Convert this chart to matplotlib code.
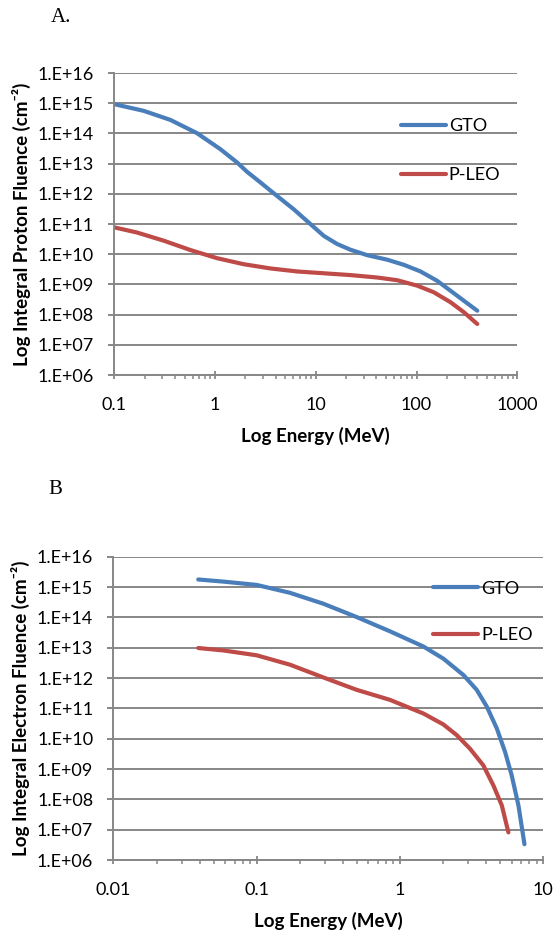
#!/usr/bin/env python3
"""Integral proton and electron fluence spectra, GTO vs P-LEO."""

import matplotlib

matplotlib.use("Agg")
import matplotlib.pyplot as plt  # noqa: E402
import numpy as np  # noqa: E402
from matplotlib.ticker import FixedLocator, FuncFormatter, LogLocator, NullFormatter  # noqa: E402

# values, as log10(energy MeV) / log10(fluence cm^-2)
proton_gto_logE = [-1.0, -0.709, -0.444, -0.179, 0.053, 0.219, 0.318, 0.450, 0.616, 0.781, 0.947,
                   1.079, 1.212, 1.344, 1.510, 1.709, 1.874, 2.040, 2.205, 2.338, 2.470, 2.603]
proton_gto_logF = [14.97, 14.75, 14.45, 14.01, 13.48, 13.04, 12.73, 12.38, 11.93, 11.49, 11.00,
                   10.61, 10.34, 10.15, 9.97, 9.82, 9.65, 9.43, 9.12, 8.79, 8.46, 8.13]
proton_leo_logE = [-1.0, -0.775, -0.510, -0.245, 0.020, 0.285, 0.550, 0.815, 1.079, 1.344, 1.609,
                   1.808, 2.007, 2.172, 2.338, 2.470, 2.603]
proton_leo_logF = [10.89, 10.72, 10.45, 10.14, 9.87, 9.67, 9.53, 9.43, 9.37, 9.31, 9.23,
                   9.14, 8.96, 8.74, 8.41, 8.08, 7.69]

electron_gto_logE = [-1.408, -1.233, -1.000, -0.768, -0.535, -0.302, -0.070, 0.163, 0.302, 0.442,
                     0.535, 0.605, 0.675, 0.733, 0.779, 0.826, 0.868]
electron_gto_logF = [15.25, 15.18, 15.07, 14.81, 14.45, 14.01, 13.54, 13.04, 12.64, 12.10,
                     11.61, 11.06, 10.34, 9.56, 8.79, 7.80, 6.52]
electron_leo_logE = [-1.408, -1.233, -1.000, -0.768, -0.535, -0.302, -0.070, 0.163, 0.302, 0.395,
                     0.488, 0.581, 0.651, 0.710, 0.756]
electron_leo_logF = [12.99, 12.91, 12.75, 12.44, 12.02, 11.61, 11.28, 10.83, 10.47, 10.12,
                     9.67, 9.12, 8.46, 7.80, 6.91]

series_names = ["GTO", "P-LEO"]
proton_xticks = [0.1, 1, 10, 100, 1000]
proton_xlabels = ["0.1", "1", "10", "100", "1000"]
electron_xticks = [0.01, 0.1, 1, 10]
electron_xlabels = ["0.01", "0.1", "1", "10"]

BLUE = "#4a7ebb"
RED = "#be4b48"
GRID = "#878787"
SANS = ["Lato", "DejaVu Sans"]


def style_axes(ax, xticks, xlabels, ylabel):
    ax.set_xscale("log")
    ax.set_yscale("log")
    ax.set_xlim(xticks[0], xticks[-1])
    ax.set_ylim(1e6, 1e16)
    ax.yaxis.set_major_locator(FixedLocator([10.0 ** k for k in range(6, 17)]))
    ax.yaxis.set_minor_locator(FixedLocator([]))
    ax.yaxis.set_major_formatter(FuncFormatter(lambda v, _: f"1.E+{int(round(np.log10(v))):02d}"))
    ax.xaxis.set_minor_locator(LogLocator(base=10, subs=np.arange(2, 10)))
    ax.xaxis.set_minor_formatter(NullFormatter())
    ax.set_xticks(xticks, xlabels)
    ax.grid(axis="y", color=GRID, linewidth=1.4)
    ax.set_axisbelow(True)
    for side in ["top", "right"]:
        ax.spines[side].set_visible(False)
    for side in ["left", "bottom"]:
        ax.spines[side].set_color(GRID)
        ax.spines[side].set_linewidth(1.4)
    ax.tick_params(axis="y", which="major", direction="out", length=4.5, width=1.4, color=GRID,
                   labelsize=13, pad=10)
    ax.tick_params(axis="x", which="major", direction="inout", length=6, width=1.3, color=GRID,
                   labelsize=13, pad=12.5)
    ax.tick_params(axis="x", which="minor", direction="out", length=3, width=1.1, color=GRID)
    for lab in ax.get_xticklabels() + ax.get_yticklabels():
        lab.set_family(SANS)
    ax.set_xlabel("Log Energy (MeV)", fontsize=13.5, fontweight="bold", family=SANS, labelpad=10.5)
    ax.set_ylabel(ylabel, fontsize=13.5, fontweight="bold", family=SANS, labelpad=5)


def main():
    fig = plt.figure(figsize=(5.58, 9.32), dpi=100)

    ax1 = fig.add_axes([0.2048, 0.5976, 0.7222, 0.3240])
    ax1.plot(10.0 ** np.array(proton_gto_logE), 10.0 ** np.array(proton_gto_logF),
             color=BLUE, linewidth=3.0, solid_capstyle="round", solid_joinstyle="round", label=series_names[0])
    ax1.plot(10.0 ** np.array(proton_leo_logE), 10.0 ** np.array(proton_leo_logF),
             color=RED, linewidth=3.0, solid_capstyle="round", solid_joinstyle="round", label=series_names[1])
    style_axes(ax1, proton_xticks, proton_xlabels, "Log Integral Proton Fluence (cm⁻²)")
    ax1.legend(loc="upper left", bbox_to_anchor=(0.718, 0.8729), bbox_transform=fig.transFigure,
               frameon=False, handlelength=2.5, handletextpad=0.17,
               labelspacing=1.83, borderpad=0, borderaxespad=0, prop={"family": SANS, "size": 13})

    ax2 = fig.add_axes([0.2032, 0.07725, 0.7706, 0.3254])
    ax2.plot(10.0 ** np.array(electron_gto_logE), 10.0 ** np.array(electron_gto_logF),
             color=BLUE, linewidth=3.0, solid_capstyle="round", solid_joinstyle="round", label=series_names[0])
    ax2.plot(10.0 ** np.array(electron_leo_logE), 10.0 ** np.array(electron_leo_logF),
             color=RED, linewidth=3.0, solid_capstyle="round", solid_joinstyle="round", label=series_names[1])
    style_axes(ax2, electron_xticks, electron_xlabels, "Log Integral Electron Fluence (cm⁻²)")
    ax2.legend(loc="upper left", bbox_to_anchor=(0.7755, 0.3771), bbox_transform=fig.transFigure,
               frameon=False, handlelength=2.5, handletextpad=0.17,
               labelspacing=1.68, borderpad=0, borderaxespad=0, prop={"family": SANS, "size": 13})

    fig.text(61 / 558, 1 - 17 / 932, "A.", fontsize=15, family="Liberation Serif", ha="center", va="center")
    fig.text(55 / 558, 1 - 490 / 932, "B", fontsize=15, family="Liberation Serif", ha="center", va="center")

    fig.savefig("out.png", dpi=100)
    plt.close(fig)


if __name__ == "__main__":
    main()
